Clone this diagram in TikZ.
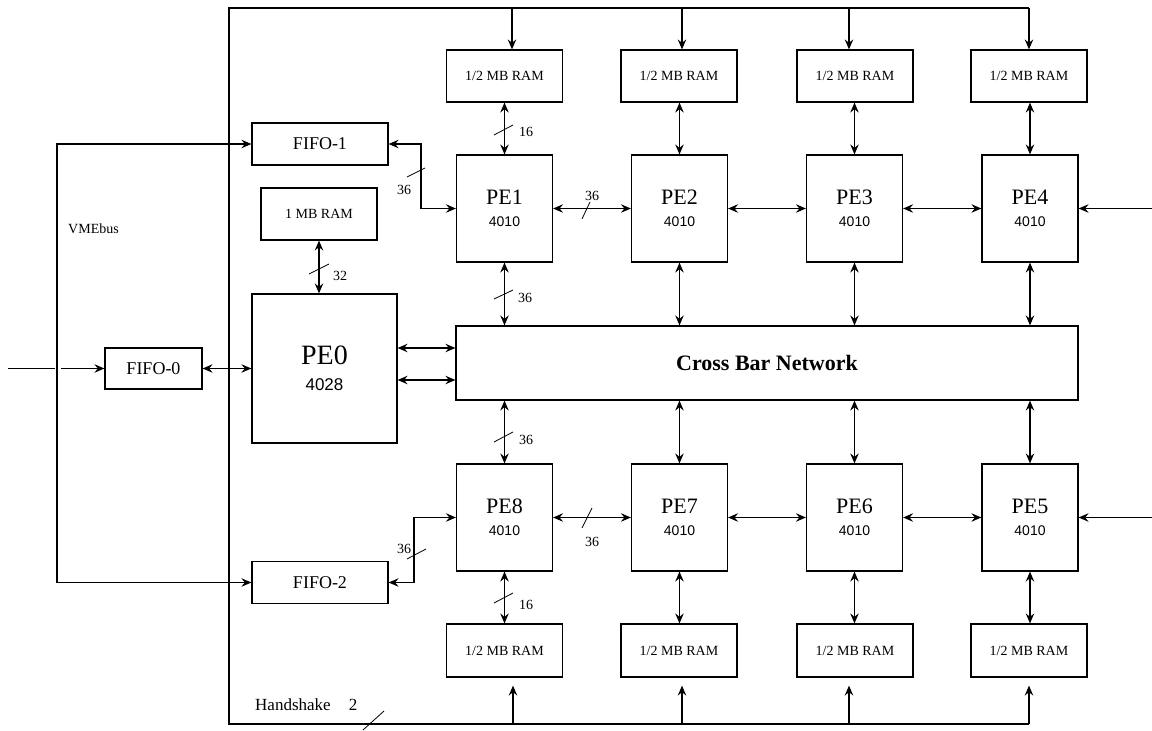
\documentclass[tikz,border=0pt]{standalone}
\usepackage{fontspec}
\setmainfont{Liberation Serif}
\newfontfamily\numfamily{Liberation Sans}
\usetikzlibrary{arrows.meta,calc}

% chip-type numbers under the PE names
\newcommand{\chipnum}[2]{{\numfamily\fontsize{#1}{#1}\selectfont #2}}

\begin{document}
\begin{tikzpicture}[x=1pt,y=-1pt,
  >={Stealth[length=10pt,width=8.5pt,inset=3.5pt]},
  wire/.style={line width=1.2pt},
  tick/.style={line width=0.8pt},
  box/.style={draw, line width=1.2pt, inner sep=0pt, align=center},
  pebox/.style={box, minimum width=96pt, minimum height=107pt,
                font=\fontsize{22}{22}\selectfont},
  rambox/.style={box, minimum width=116pt, minimum height=52pt,
                 font=\fontsize{14}{14}\selectfont},
  fifobox/.style={box, minimum width=136pt, minimum height=42pt,
                  font=\fontsize{18}{18}\selectfont},
  lbl/.style={inner sep=0pt, font=\fontsize{14}{14}\selectfont}]

\fill[white] (0,0) rectangle (1152,731);
\useasboundingbox (0,0) rectangle (1152,731);

% ---------- memories above the upper PE row ----------
\node[rambox] (rt1) at (504.5,76) {1/2 MB RAM};
\node[rambox] (rt2) at (679,76)   {1/2 MB RAM};
\node[rambox] (rt3) at (855,76)   {1/2 MB RAM};
\node[rambox] (rt4) at (1029,76)  {1/2 MB RAM};

% ---------- upper PE row ----------
\node[pebox] (pe1) at (504.5,208.5) {PE1\\\chipnum{14}{4010}};
\node[pebox] (pe2) at (679.5,208.5) {PE2\\\chipnum{14}{4010}};
\node[pebox] (pe3) at (854.5,208.5) {PE3\\\chipnum{14}{4010}};
\node[pebox] (pe4) at (1030,208.5)  {PE4\\\chipnum{14}{4010}};

% ---------- crossbar ----------
\node[box, minimum width=622pt, minimum height=74pt,
      font=\fontsize{22}{22}\selectfont\bfseries] (xbar) at (767,363) {Cross Bar Network};

% ---------- lower PE row ----------
\node[pebox] (pe8) at (504.5,517.5) {PE8\\\chipnum{14}{4010}};
\node[pebox] (pe7) at (679.5,517.5) {PE7\\\chipnum{14}{4010}};
\node[pebox] (pe6) at (854.5,517.5) {PE6\\\chipnum{14}{4010}};
\node[pebox] (pe5) at (1030,517.5)  {PE5\\\chipnum{14}{4010}};

% ---------- memories below the lower PE row ----------
\node[rambox, minimum height=53pt] (rb8) at (504.5,650.5) {1/2 MB RAM};
\node[rambox, minimum height=53pt] (rb7) at (679,650.5)   {1/2 MB RAM};
\node[rambox, minimum height=53pt] (rb6) at (855,650.5)   {1/2 MB RAM};
\node[rambox, minimum height=53pt] (rb5) at (1029,650.5)  {1/2 MB RAM};

% ---------- host side ----------
\node[fifobox] (fifo1) at (320,144) {FIFO-1};
\node[fifobox] (fifo2) at (320,582.5) {FIFO-2};
\node[fifobox, minimum width=97pt, minimum height=41pt] (fifo0) at (153.5,368.5) {FIFO-0};
\node[rambox] (ram0) at (319,214) {1 MB RAM};
\node[box, minimum width=145pt, minimum height=149pt,
      font=\fontsize{28}{26}\selectfont] (pe0) at (324.5,368.5) {PE0\\\chipnum{17}{4028}};

\node[anchor=base west, inner sep=0pt, font=\fontsize{14}{14}\selectfont] (vme) at (68,233) {VMEbus};
\node[anchor=base west, inner sep=0pt, font=\fontsize{17}{17}\selectfont] (hs) at (255,710) {Handshake};
\node[anchor=base, inner sep=0pt, font=\fontsize{17}{17}\selectfont] (hsn) at (353,710) {2};

% ---------- handshake frame ----------
\coordinate (hsTL) at (229,8);
\coordinate (hsBL) at (229,724);
\coordinate (t1) at (512,8);  \coordinate (t2) at (682,8);
\coordinate (t3) at (849,8);  \coordinate (t4) at (1029,8);
\coordinate (b1) at (513,724); \coordinate (b2) at (682,724);
\coordinate (b3) at (849,724); \coordinate (b4) at (1029,724);
\draw[wire] (t4) -- (hsTL) -- (hsBL) -- (b4);

\draw[wire,->] (t1) -- (t1 |- rt1.north);
\draw[wire,->] (t2) -- (t2 |- rt2.north);
\draw[wire,->] (t3) -- (t3 |- rt3.north);
\draw[wire,->] (t4) -- (t4 |- rt4.north);
\draw[wire,->] (b1) -- ($(b1 |- rb8.south)+(0,8)$);
\draw[wire,->] (b2) -- ($(b2 |- rb7.south)+(0,8)$);
\draw[wire,->] (b3) -- ($(b3 |- rb6.south)+(0,8)$);
\draw[wire,->] (b4) -- ($(b4 |- rb5.south)+(0,8)$);
\draw[tick] (363,730) -- (384,711);

% ---------- PE <-> local memory ----------
\draw[wire,<->] (pe1.north) -- (pe1.north |- rt1.south);
\draw[wire,<->] (pe2.north) -- (pe2.north |- rt2.south);
\draw[wire,<->] (pe3.north) -- (pe3.north |- rt3.south);
\draw[wire,<->] (pe4.north) -- (pe4.north |- rt4.south);
\draw[wire,<->] (pe8.south) -- (pe8.south |- rb8.north);
\draw[wire,<->] (pe7.south) -- (pe7.south |- rb7.north);
\draw[wire,<->] (pe6.south) -- (pe6.south |- rb6.north);
\draw[wire,<->] (pe5.south) -- (pe5.south |- rb5.north);

% ---------- PE <-> crossbar ----------
\draw[wire,<->] (pe1.south) -- (pe1.south |- xbar.north);
\draw[wire,<->] (pe2.south) -- (pe2.south |- xbar.north);
\draw[wire,<->] (pe3.south) -- (pe3.south |- xbar.north);
\draw[wire,<->] (pe4.south) -- (pe4.south |- xbar.north);
\draw[wire,<->] (pe8.north) -- (pe8.north |- xbar.south);
\draw[wire,<->] (pe7.north) -- (pe7.north |- xbar.south);
\draw[wire,<->] (pe6.north) -- (pe6.north |- xbar.south);
\draw[wire,<->] (pe5.north) -- (pe5.north |- xbar.south);

% ---------- neighbour links ----------
\draw[wire,<->] (pe1.east) -- (pe2.west);
\draw[wire,<->] (pe2.east) -- (pe3.west);
\draw[wire,<->] (pe3.east) -- (pe4.west);
\draw[wire,<->] (pe8.east) -- (pe7.west);
\draw[wire,<->] (pe7.east) -- (pe6.west);
\draw[wire,<->] (pe6.east) -- (pe5.west);
\coordinate (e4) at (1152,208.5);
\coordinate (e5) at (1152,517.5);
\draw[wire,->] (e4) -- (pe4.east);
\draw[wire,->] (e5) -- (pe5.east);

% ---------- VMEbus and FIFOs ----------
\coordinate (vt) at (57,144);
\coordinate (vb) at (57,582.5);
\draw[wire,<->] (fifo1.west) -- (vt) -- (vb) -- (fifo2.west);
\coordinate (in0) at (8,368.5);
\coordinate (in1) at (55,368.5);
\coordinate (in2) at (61,368.5);
\draw[wire] (in0) -- (in1);
\draw[wire,->] (in2) -- (fifo0.west);
\draw[wire,<->] (fifo0.east) -- (pe0.west);

\coordinate (j1) at (421,144);
\coordinate (j2) at (414,582.5);
\draw[wire,<->] (fifo1.east) -- (j1) |- (pe1.west);
\draw[wire,<->] (fifo2.east) -- (j2) |- (pe8.west);

% ---------- PE0 links ----------
\draw[wire,<->] (ram0.south) -- (ram0.south |- pe0.north);
\draw[wire,<->] (pe0.east |- 0,348) -- (xbar.west |- 0,348);
\draw[wire,<->] (pe0.east |- 0,380) -- (xbar.west |- 0,380);

% ---------- bus widths ----------
\draw[tick] (494,135) -- (513,125);   \node[lbl] (w1) at (526,132) {16};
\draw[tick] (494,299) -- (513,290);   \node[lbl] (w2) at (525,298) {36};
\draw[tick] (582,219) -- (590,202);   \node[lbl] (w3) at (592,196) {36};
\draw[tick] (407,177) -- (425,168);   \node[lbl] (w4) at (404,190) {36};
\draw[tick] (309,274) -- (329,264);   \node[lbl] (w5) at (340,276) {32};
\draw[tick] (494,442) -- (513,432);   \node[lbl] (w6) at (526,440) {36};
\draw[tick] (582,528) -- (592,508);   \node[lbl] (w7) at (592,542) {36};
\draw[tick] (407,559) -- (426,549);   \node[lbl] (w8) at (404,549) {36};
\draw[tick] (494,603) -- (513,593);   \node[lbl] (w9) at (526,605) {16};

\end{tikzpicture}
\end{document}
